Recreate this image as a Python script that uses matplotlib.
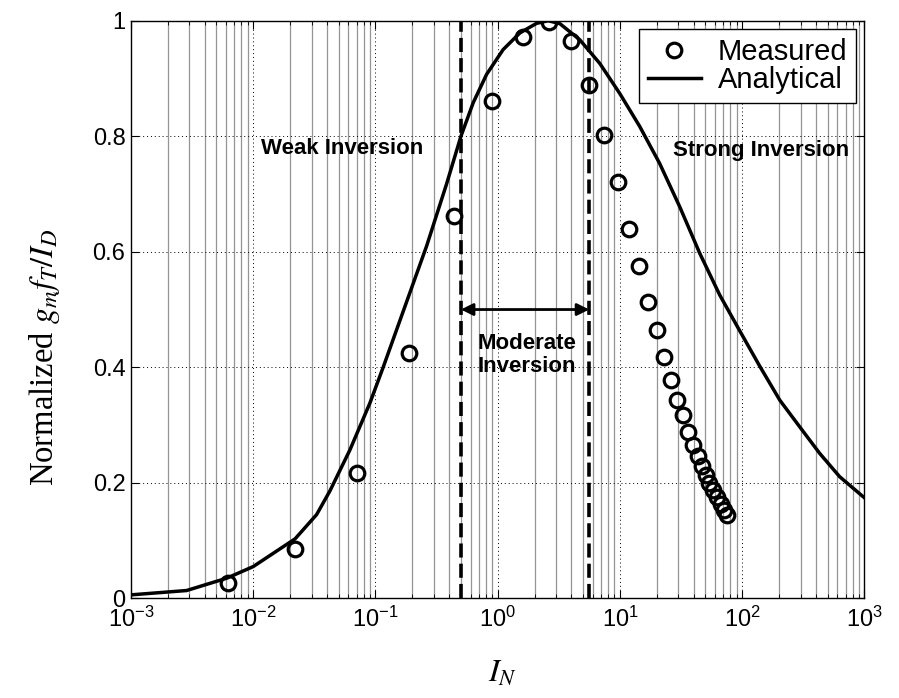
import matplotlib
matplotlib.use('Agg')
import matplotlib.pyplot as plt
from matplotlib.ticker import LogLocator, NullFormatter
from matplotlib.lines import Line2D

# measured points (normalized current vs normalized gm*fT/ID)
measured_in = [0.0062, 0.022, 0.070, 0.188, 0.437, 0.89, 1.61, 2.62, 3.94, 5.55,
               7.37, 9.6, 11.9, 14.3, 16.8, 19.9, 23.0, 25.9, 29.0, 32.5,
               35.9, 39.7, 43.1, 46.5, 50.1, 53.6, 57.8, 62.3, 66.8, 71.1, 75.7]
measured_norm = [0.026, 0.085, 0.217, 0.425, 0.662, 0.861, 0.972, 0.998, 0.965, 0.889,
                 0.803, 0.721, 0.639, 0.576, 0.513, 0.4645, 0.418, 0.378, 0.344, 0.317,
                 0.288, 0.265, 0.246, 0.229, 0.213, 0.199, 0.1875, 0.175, 0.163, 0.153, 0.144]

# analytical curve
analytic_in = [0.001, 0.00285, 0.0061, 0.01, 0.022, 0.033, 0.0424, 0.0618, 0.090, 0.1156,
               0.1486, 0.262, 0.381, 0.50, 0.63, 0.81, 1.107, 1.52, 2.08, 2.59,
               3.22, 4.69, 6.84, 9.96, 14.5, 21.1, 30.8, 45, 65.5, 95.5,
               139, 203, 295, 430, 627, 1000]
analytic_norm = [0.006, 0.0135, 0.035, 0.055, 0.103, 0.145, 0.186, 0.257, 0.338, 0.400,
                 0.4645, 0.610, 0.717, 0.800, 0.858, 0.907, 0.950, 0.979, 0.9955, 1.000,
                 0.995, 0.967, 0.926, 0.874, 0.817, 0.753, 0.678, 0.597, 0.525, 0.463,
                 0.402, 0.343, 0.297, 0.251, 0.2105, 0.174]

moderate_bounds = [0.5, 5.6]
y_ticks = [0, 0.2, 0.4, 0.6, 0.8, 1]
y_tick_labels = ['0', '0.2', '0.4', '0.6', '0.8', '1']

plt.rcParams['font.family'] = ['Liberation Sans', 'DejaVu Sans']
plt.rcParams['mathtext.fontset'] = 'stix'

fig = plt.figure(figsize=(8.99, 6.98), dpi=100)
ax = fig.add_axes([0.1457, 0.1428, 0.8159, 0.8275])

ax.set_xscale('log')
ax.set_xlim(1e-3, 1e3)
ax.set_ylim(0, 1)
ax.xaxis.set_minor_locator(LogLocator(base=10, subs=range(2, 10), numticks=20))
ax.xaxis.set_minor_formatter(NullFormatter())
ax.set_yticks(y_ticks, y_tick_labels)

ax.set_axisbelow(True)
ax.grid(which='minor', axis='x', linestyle='-', color='0.58', lw=0.9)
ax.grid(which='major', axis='both', linestyle=(0, (1, 3)), color='k', lw=0.7)

ax.plot(analytic_in, analytic_norm, 'k-', lw=2.5, zorder=3, solid_joinstyle='round')
ax.plot(measured_in, measured_norm, 'o', mfc='none', mec='k', mew=2.3, ms=10.5, zorder=4)

for b in moderate_bounds:
    ax.axvline(b, color='k', lw=2.6, dashes=(3.9, 1.7), zorder=3)

ax.annotate('', xy=(moderate_bounds[1], 0.5), xytext=(moderate_bounds[0], 0.5),
            arrowprops=dict(arrowstyle='<|-|>', color='k', lw=2, mutation_scale=18,
                            shrinkA=0, shrinkB=0), zorder=5)

ax.text(0.0536, 0.778, 'Weak Inversion', ha='center', va='center', fontsize=16, fontweight='bold')
ax.text(143.5, 0.776, 'Strong Inversion', ha='center', va='center', fontsize=16, fontweight='bold')
ax.text(1.72, 0.421, 'Moderate\nInversion', ha='center', va='center', fontsize=16,
        fontweight='bold', linespacing=1.15)

handles = [Line2D([], [], ls='none', marker='o', mfc='none', mec='k', mew=2.3, ms=10.5),
           Line2D([], [], color='k', lw=2.5)]
leg = ax.legend(handles, ['Measured', 'Analytical'], loc='upper right',
                bbox_to_anchor=(0.989, 0.985), borderaxespad=0, fancybox=False,
                framealpha=1, edgecolor='k', handlelength=1.8, borderpad=0.3,
                labelspacing=0.0, handletextpad=0.6,
                prop={'family': ['Liberation Sans', 'DejaVu Sans'], 'size': 21})
leg.get_frame().set_linewidth(1.0)

ax.tick_params(which='both', direction='in', top=True, right=True, labelsize=17)
ax.tick_params(which='major', length=6)
ax.tick_params(which='minor', length=3)
ax.tick_params(axis='x', pad=6)
ax.tick_params(axis='y', pad=4)

ax.set_ylabel(r'Normalized $g_m f_T/I_D$', fontsize=23.5,
              family=['Liberation Serif', 'DejaVu Serif'])
ax.yaxis.set_label_coords(-0.094, 0.418)
ax.set_xlabel(r'$I_N$', fontsize=23)
ax.xaxis.set_label_coords(0.506, -0.105)

for s in ax.spines.values():
    s.set_linewidth(1.0)

fig.savefig('out.png', dpi=100)
